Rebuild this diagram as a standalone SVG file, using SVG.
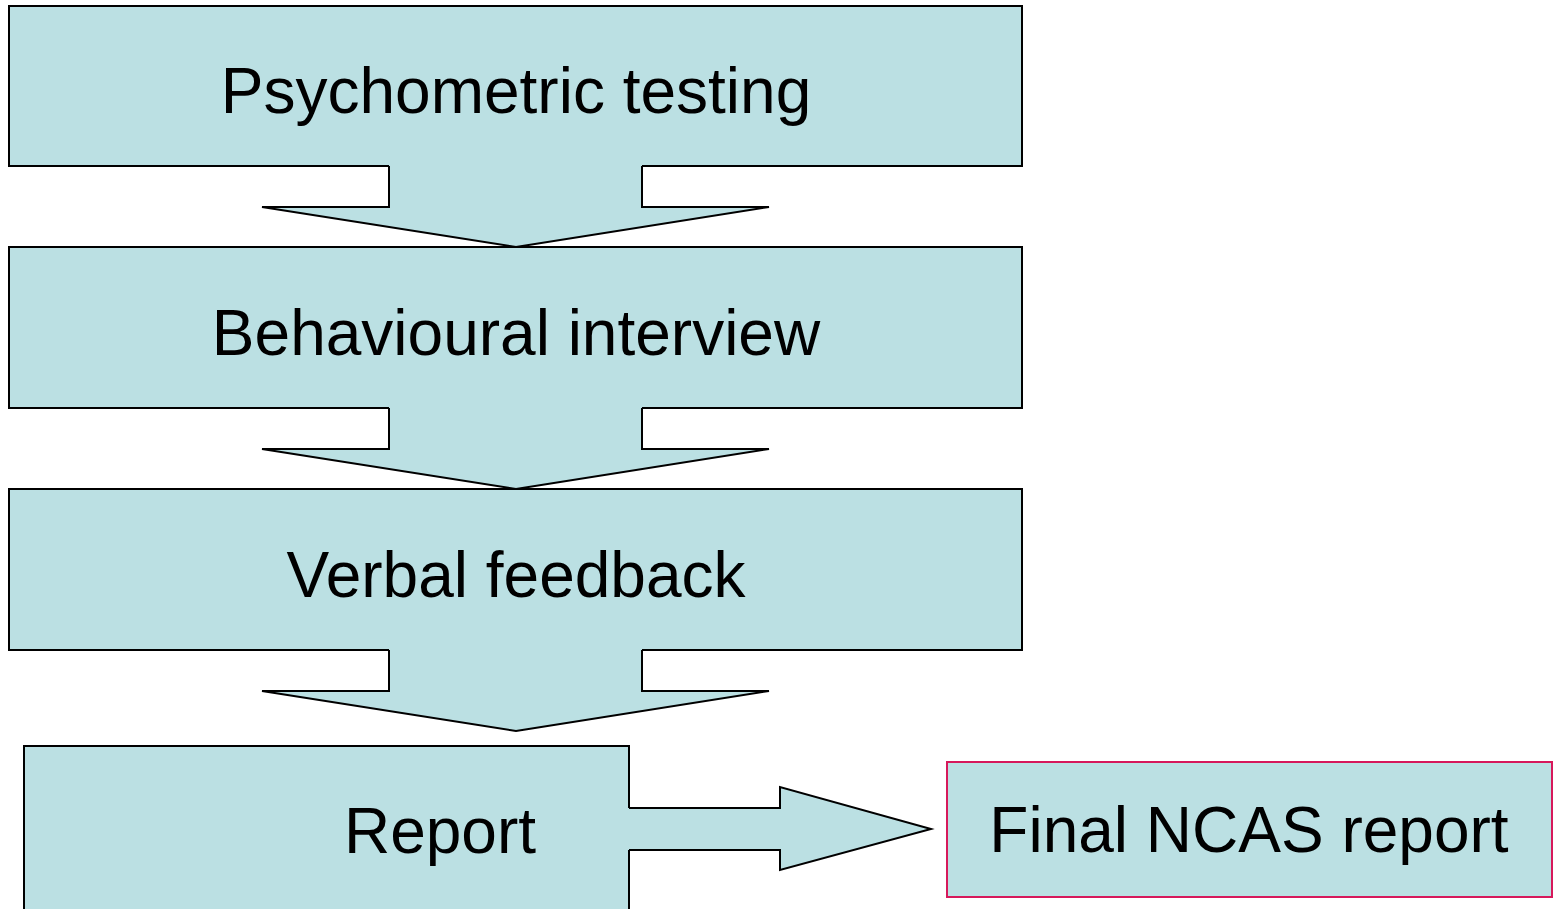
<svg xmlns="http://www.w3.org/2000/svg" width="1554" height="909" viewBox="0 0 1554 909">
<style>
.box{fill:#bbe0e3;stroke:#000;stroke-width:2}
.fin{fill:#bbe0e3;stroke:#d6195b;stroke-width:2}
.af{fill:#bbe0e3;stroke:none}
.as{fill:none;stroke:#000;stroke-width:2;stroke-linejoin:miter}
text{font-family:"Liberation Sans",Arial,sans-serif;font-size:64px;fill:#000;text-anchor:middle}
</style>
<rect width="1554" height="909" fill="#fff"/>
<g id="node-psychometric">
<rect class="box" x="9" y="6" width="1013" height="160"/>
<text x="516" y="113">Psychometric testing</text>
</g>
<g id="node-behavioural">
<rect class="box" x="9" y="247" width="1013" height="161"/>
<text x="516" y="355">Behavioural interview</text>
</g>
<g id="node-verbal">
<rect class="box" x="9" y="489" width="1013" height="161"/>
<text x="516" y="597">Verbal feedback</text>
</g>
<g id="node-report">
<rect class="box" x="24" y="746" width="605" height="180"/>
<text x="440" y="853">Report</text>
</g>
<g id="node-final">
<rect class="fin" x="947" y="762" width="605" height="135"/>
<text x="1249" y="852">Final NCAS report</text>
</g>
<g id="connectors">
<path class="af" d="M389,165 V207 H262 L516,247 L769,207 H642 V165 Z"/>
<path class="as" d="M389,166 V207 H262 L516,247 L769,207 H642 V166"/>
<path class="af" d="M389,407 V449 H262 L516,489 L769,449 H642 V407 Z"/>
<path class="as" d="M389,408 V449 H262 L516,489 L769,449 H642 V408"/>
<path class="af" d="M389,649 V691 H262 L516,731 L769,691 H642 V649 Z"/>
<path class="as" d="M389,650 V691 H262 L516,731 L769,691 H642 V650"/>
<path class="af" d="M628,808 H780 V787 L931,829 L780,870 V850 H628 Z"/>
<path class="as" d="M629,808 H780 V787 L931,829 L780,870 V850 H629"/>
</g>
</svg>
